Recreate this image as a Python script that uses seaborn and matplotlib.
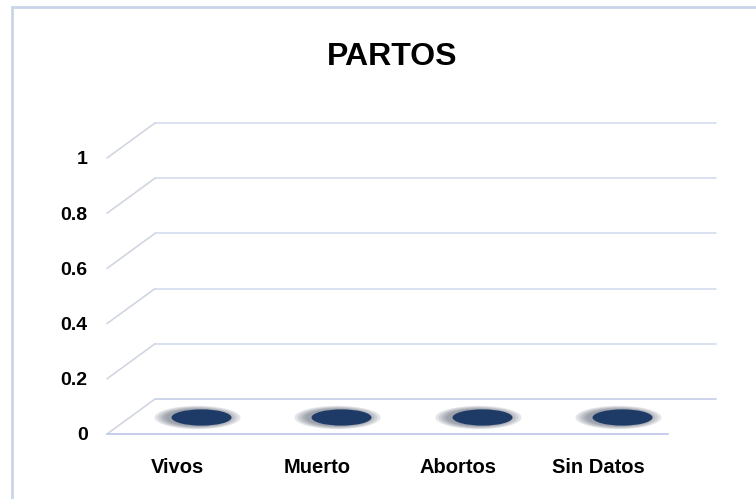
import numpy as np
import matplotlib
matplotlib.use("Agg")
import matplotlib.pyplot as plt
import matplotlib.transforms as mtransforms
from matplotlib.path import Path
from matplotlib.patches import Rectangle
import seaborn as sns

# data
categories = ["Vivos", "Muerto", "Abortos", "Sin Datos"]
values = [0, 0, 0, 0]
yticks = [0, 0.2, 0.4, 0.6, 0.8, 1]
ytick_labels = ["0", "0.2", "0.4", "0.6", "0.8", "1"]
title = "PARTOS"

sns.set_style("white")
plt.rcParams['font.family'] = ['Liberation Sans', 'DejaVu Sans']
plt.rcParams['text.color'] = 'black'
plt.rcParams['xtick.color'] = 'black'
plt.rcParams['ytick.color'] = 'black'

fig = plt.figure(figsize=(7.56, 4.99), dpi=100)
ax = fig.add_axes([107 / 756, 65 / 499, 561 / 756, 276 / 499])

# depth offset of the fake 3d box (pixels)
depth_x, depth_y = 48, 35
dx_ax = depth_x / 561
dy_ax = depth_y / 276
back = ax.get_yaxis_transform() + mtransforms.ScaledTranslation(depth_x / 100, depth_y / 100, fig.dpi_scale_trans)

grid_col = "#d3dcee"
floor_col = "#c6cdea"
for v in yticks:
    col = floor_col if v == 0 else grid_col
    ax.plot([0, 1], [v, v], transform=back, color=col, lw=1.2, clip_on=False, zorder=1)
    ax.plot([0, dx_ax], [v, v + dy_ax], transform=ax.transAxes, color="#d2d6e0", lw=1.2, clip_on=False, zorder=1)
ax.plot([0, 1], [0, 0], transform=ax.get_yaxis_transform(), color=floor_col, lw=1.4, clip_on=False, zorder=1)

# cylinders of height zero -> just their top ellipses, with a soft shadow
circ = Path.unit_circle()
ell = Path(circ.vertices * np.array([1.0, 0.27]), circ.codes)
df = {"cat": categories, "val": values}
mid = ax.transData + mtransforms.ScaledTranslation(depth_x / 200, depth_y / 200, fig.dpi_scale_trans)
shadow = ax.transData + mtransforms.ScaledTranslation(depth_x / 200 - 0.04, depth_y / 200 - 0.005, fig.dpi_scale_trans)

glow_w = [86, 80, 74, 69, 64]
for w in glow_w:
    sns.scatterplot(data=df, x="cat", y="val", ax=ax, marker=ell, s=(w * 0.72) ** 2,
                    color="#5f6777", alpha=0.17, linewidth=0, legend=False, zorder=2)
    ax.collections[-1].set_offset_transform(shadow)
sns.scatterplot(data=df, x="cat", y="val", ax=ax, marker=ell, s=(60 * 0.72) ** 2,
                color="#1e3a66", linewidth=0, legend=False, zorder=3)
ax.collections[-1].set_offset_transform(mid)

ax.set_xlim(-0.5, len(categories) - 0.5)
ax.set_ylim(0, 1)
ax.set_yticks(yticks)
ax.set_yticklabels(ytick_labels)
ax.set_xlabel("")
ax.set_ylabel("")
ax.tick_params(axis="y", length=0, pad=14, labelsize=14)
ax.tick_params(axis="x", length=0, pad=17, labelsize=14.5)
for lab in ax.get_xticklabels() + ax.get_yticklabels():
    lab.set_fontweight("bold")
sns.despine(ax=ax, left=True, bottom=True)
ax.patch.set_alpha(0)

fig.text(392 / 756, 1 - 57 / 499, title, ha="center", va="center", fontsize=23, fontweight="bold")

fig.patches.append(Rectangle((12 / 756, -0.1), 1.2, 1 - 7 / 499 + 0.1, transform=fig.transFigure,
                             fill=False, edgecolor="#c9d6ea", lw=2, zorder=0))

fig.savefig("out.png", dpi=100)
